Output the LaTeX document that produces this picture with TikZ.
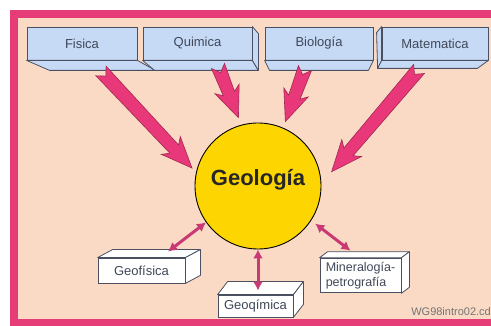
\documentclass[tikz,border=0pt]{standalone}
\usepackage{fontspec}
\setmainfont{Liberation Sans}
\usetikzlibrary{calc,arrows.meta}

\definecolor{peach}{HTML}{FADAC4}
\definecolor{framepink}{HTML}{E63C78}
\definecolor{boxblue}{HTML}{C6DAF6}
\definecolor{boxedge}{HTML}{4A5060}
\definecolor{labelgray}{HTML}{404858}
\definecolor{sun}{HTML}{FDD500}
\definecolor{arrowpink}{HTML}{E8387A}
\definecolor{arrowedge}{HTML}{A02850}
\definecolor{duopink}{HTML}{C83A74}

% fat arrow with notched tail, from #1 to #2
\newcommand\fatarrow[2]{%
  \path[fatarrow] let \p1=($(#2)-(#1)$), \n1={atan2(\y1,\x1)}, \n2={veclen(\x1,\y1)} in
    [shift={(#1)}, rotate=\n1]
    (7pt,0pt) -- (0pt,7pt) -- (\n2-26pt,6pt) -- (\n2-31pt,13pt) -- (\n2,0pt)
    -- (\n2-31pt,-13pt) -- (\n2-26pt,-6pt) -- (0pt,-7pt) -- cycle;}

\begin{document}
\begin{tikzpicture}[x=1pt,y=-1pt,
  topbox/.style={draw=boxedge, fill=boxblue, line width=0.8pt, minimum height=33pt, inner sep=0pt,
    font=\fontsize{13}{15}\selectfont, text=labelgray},
  lowbox/.style={draw=boxedge, fill=white, line width=0.8pt, inner sep=4pt,
    font=\fontsize{13}{15}\selectfont, text=labelgray},
  face/.style={draw=boxedge, line width=0.8pt, line join=round},
  fatarrow/.style={fill=arrowpink, draw=arrowedge, line width=0.6pt, line join=miter},
  duo/.style={draw=duopink, line width=3pt, {Latex[length=9pt,width=10pt]}-{Latex[length=9pt,width=10pt]}}]

  \useasboundingbox (0,0) rectangle (491,326);
  \clip (0,0) rectangle (491,326);
  \fill[white] (0,0) rectangle (491,326);
  \fill[framepink] (10,10) rectangle (500,340);
  \fill[peach] (18,18) rectangle (500,319);

  % top boxes
  \node[topbox, minimum width=110pt] (fis) at (82,43.5) {Fisica};
  \node[topbox, minimum width=109pt] (qui) at (197.5,43.5) {Quimica};
  \node[topbox, minimum width=108pt] (bio) at (319,43.5) {Biología};
  \node[topbox, minimum width=106pt] (mat) at (435,43.5) {Matematica};

  \draw[face, fill=boxblue] (fis.south west) -- ++(23,10) -- ($(fis.south east)+(18,10)$) -- (fis.south east) -- cycle;
  \draw[face, fill=boxblue] (qui.south west) -- ++(12,10) -- ($(qui.south east)+(6,10)$) -- (qui.south east) -- cycle;
  \draw[face, fill=boxblue] (qui.north east) -- ++(6,7) -- ($(qui.south east)+(6,10)$) -- (qui.south east) -- cycle;
  \draw[face, fill=boxblue] (bio.south west) -- ++(5,10) -- ($(bio.south east)+(-5,10)$) -- (bio.south east) -- cycle;
  \draw[face, fill=boxblue] (mat.south west) -- ++(-4,8) -- ($(mat.south east)+(-11,8)$) -- (mat.south east) -- cycle;
  \draw[face, fill=boxblue] (mat.north west) -- ++(-5,6) -- ($(mat.south west)+(-4,8)$) -- (mat.south west) -- cycle;

  % centre
  \node[circle, draw=black, line width=0.9pt, fill=sun, minimum size=126pt, inner sep=0pt] (geo) at (258,186) {};
  \node[font=\bfseries\fontsize{22}{24}\selectfont, text=black!85] (geotxt) at (258,180) {Geología};

  % big arrows
  \coordinate (t1) at (101,71);
  \coordinate (t2) at (218,66);
  \coordinate (t3) at (305,68);
  \coordinate (t4) at (419,69);
  \coordinate (h1) at ($(geo.center)!68pt!(geo.165)$);
  \coordinate (h2) at ($(geo.center)!71pt!(geo.106)$);
  \coordinate (h3) at ($(geo.center)!70pt!(geo.67)$);
  \coordinate (h4) at ($(geo.center)!75pt!(geo.11)$);
  \fatarrow{t1}{h1}
  \fatarrow{t2}{h2}
  \fatarrow{t3}{h3}
  \fatarrow{t4}{h4}

  % bottom boxes
  \node[lowbox, minimum width=87pt, minimum height=25pt] (gfis) at (141.5,270.5) {Geofísica};
  \draw[face, fill=white] (gfis.north west) -- ++(15,-8) -- ($(gfis.north east)+(15,-8)$) -- (gfis.north east) -- cycle;
  \draw[face, fill=white] (gfis.north east) -- ++(15,-8) -- ($(gfis.south east)+(15,-8)$) -- (gfis.south east) -- cycle;

  \node[lowbox, minimum width=75pt, minimum height=22pt] (gqui) at (255.5,306) {Geoqímica};
  \draw[face, fill=white] (gqui.north west) -- ++(10,-13) -- ($(gqui.north east)+(10,-13)$) -- (gqui.north east) -- cycle;
  \draw[face, fill=white] (gqui.north east) -- ++(10,-13) -- ($(gqui.south east)+(10,-13)$) -- (gqui.south east) -- cycle;

  \node[lowbox, minimum width=81pt, minimum height=33pt, align=left, font=\fontsize{12.5}{15}\selectfont] (mine) at (360.5,275.5) {Mineralogía-\\petrografía};
  \draw[face, fill=white] (mine.north west) -- ++(8,-6) -- ($(mine.north east)+(8,-6)$) -- (mine.north east) -- cycle;
  \draw[face, fill=white] (mine.north east) -- ++(8,-6) -- ($(mine.south east)+(8,-6)$) -- (mine.south east) -- cycle;

  % links
  \draw[duo] (geo.215) -- ($(gfis.north)+(26.5,-6)$);
  \draw[duo] (geo.270) -- ($(gqui.north)+(2.5,-4)$);
  \draw[duo, shorten <=5pt] (geo.-33) -- ($(mine.north)+(-10,-7)$);

  \node[anchor=east, font=\fontsize{11}{13}\selectfont, text=black!55, inner sep=0pt] (file) at (491,312) {WG98intro02.cd};
\end{tikzpicture}
\end{document}
